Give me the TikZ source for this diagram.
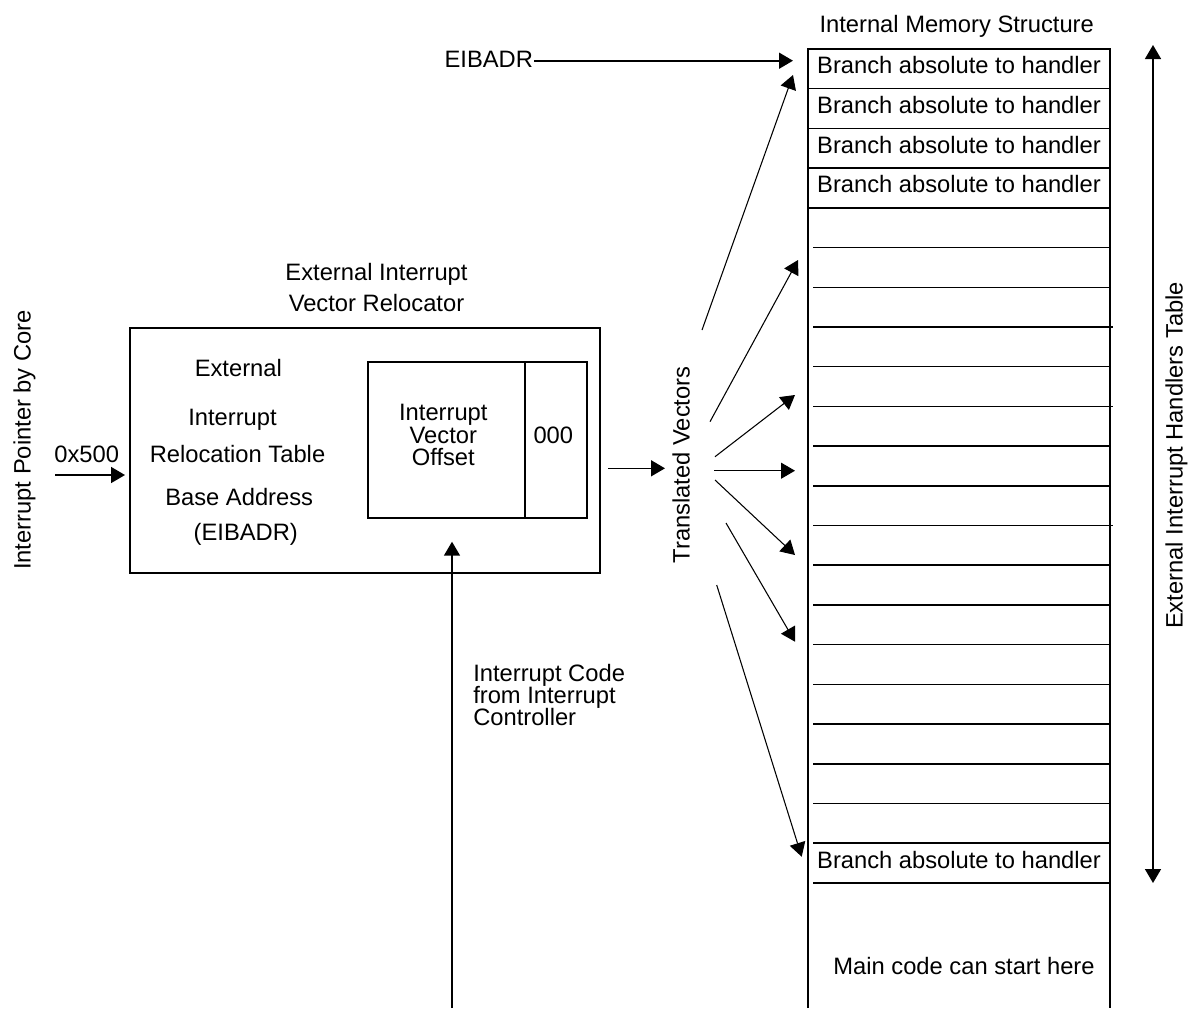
\documentclass[tikz,border=0pt]{standalone}
\usepackage{fontspec}
\setmainfont{Liberation Sans}
\usepackage{tikz}
\usetikzlibrary{arrows.meta}
\tikzset{txt/.style={inner sep=0.75pt,font=\fontsize{17.8}{16.9}\selectfont,text height=12.8pt,text depth=0pt},
    arr/.style={line width=1.2pt,-{Triangle[length=10.5pt,width=12pt]}},
    fanarr/.style={line width=0.8pt,-{Triangle[length=10.5pt,width=12pt]}},
    rowline/.style={line width=1.15pt}}

\begin{document}
\begin{tikzpicture}[x=0.75pt,y=0.75pt,yscale=-1,xscale=1]
\useasboundingbox (0,0) rectangle (1188,1008);

%Shape: Memory column
\draw [line width=1.5pt] (808,1008) -- (808,49) -- (1110,49) -- (1110,1008) ;
%Straight Lines: rows
\foreach \k in {1,...,4}
  \draw [rowline] (808,49+39.71*\k) -- (1110,49+39.71*\k) ;
\foreach \k in {5,6,8,10,11,13,14,15,16,17,18,19,20,21}
  \draw [rowline] (813,49+39.71*\k) -- (1110,49+39.71*\k) ;
\foreach \k in {7,9,12}
  \draw [rowline] (813,49+39.71*\k) -- (1113,49+39.71*\k) ;

% Text Node
\draw (956.7,24) node (memtitle) [txt] {Internal Memory Structure};
% Text Node
\foreach \k in {0,1,2,3,20}
  \draw (959,49+39.71*\k+16.3) node (branch\k) [txt] {Branch absolute to handler};
% Text Node
\draw (964,966) node (maincode) [txt] {Main code can start here};

%Straight Lines: table extent
\coordinate (tbltop) at (1153,45);
\coordinate (tblbot) at (1153,883);
\draw [line width=1.2pt,{Triangle[length=10.5pt,width=12pt]}-{Triangle[length=10.5pt,width=12pt]}] (tbltop) -- (tblbot) ;
% Text Node
\draw (1174,455.5) node (tbllbl) [txt,rotate=90] {External Interrupt Handlers Table};

%Shape: Relocator boxes
\draw [line width=1.4pt] (130,328.3) rectangle (600,573.3) ;
\draw [line width=1.3pt] (368.3,361.7) rectangle (525,518.3) ;
\draw [line width=1.3pt] (525,361.7) rectangle (586.7,518.3) ;

% Text Node
\draw (376.5,271.7) node (relocA) [txt] {External Interrupt};
% Text Node
\draw (376.5,303.3) node (relocB) [txt] {Vector Relocator};
% Text Node
\foreach \i/\x/\y/\t in {1/238.3/368.3/External,2/232.5/416.7/Interrupt,3/237.5/454/Relocation Table,4/239.2/496.7/Base Address,5/245.8/531.7/(EIBADR)}
  \draw (\x,\y) node (base\i) [txt] {\t};
% Text Node
\foreach \i/\y/\t in {1/412/Interrupt,2/434.5/Vector,3/457/Offset}
  \draw (443.3,\y) node (offset\i) [txt] {\t};
% Text Node
\draw (553.3,435) node (zeros) [txt] {000};

% Text Node
\draw (22,440) node (corelbl) [txt,rotate=90] {Interrupt Pointer by Core};
% Text Node
\draw (86.7,454) node (ptrval) [txt] {0x500};
\coordinate (ptrin) at (55,475);
\coordinate (ptrend) at (125,475);
\draw [arr] (ptrin) -- (ptrend) ;

% Text Node
\draw (488.8,59) node (eibadr) [txt] {EIBADR};
\coordinate (eibtip) at (793,60.7);
\draw [arr] (eibadr.east |- eibtip) -- (eibtip) ;

% Text Node
\foreach \i/\y/\t in {1/672.7/Interrupt Code,2/695/from Interrupt,3/717/Controller}
  \draw (472,\y) node [anchor=west] (ctrl\i) [txt] {\t};
\coordinate (ctrlin) at (452,1008);
\coordinate (ctrltip) at (452,541.7);
\draw [arr] (ctrlin) -- (ctrltip) ;

%Straight Lines: relocator output
\coordinate (outs) at (608,468.3);
\coordinate (oute) at (665,468.3);
\draw [arr] (outs) -- (oute) ;
% Text Node
\draw (681,465) node (translbl) [txt,rotate=90] {Translated Vectors};

%Straight Lines: translated vectors
\foreach \i/\sx/\sy/\ex/\ey in {1/702/330/793/75,2/710/421.7/798/260,3/715/456.7/795/395,4/714/470.7/795/470.7,5/715/480/795/555,6/726/523/795/641.7,7/716.7/585/801.7/856.7} {
  \coordinate (fan\i a) at (\sx,\sy);
  \coordinate (fan\i b) at (\ex,\ey);
  \draw [fanarr] (fan\i a) -- (fan\i b) ;
}

\end{tikzpicture}
\end{document}
